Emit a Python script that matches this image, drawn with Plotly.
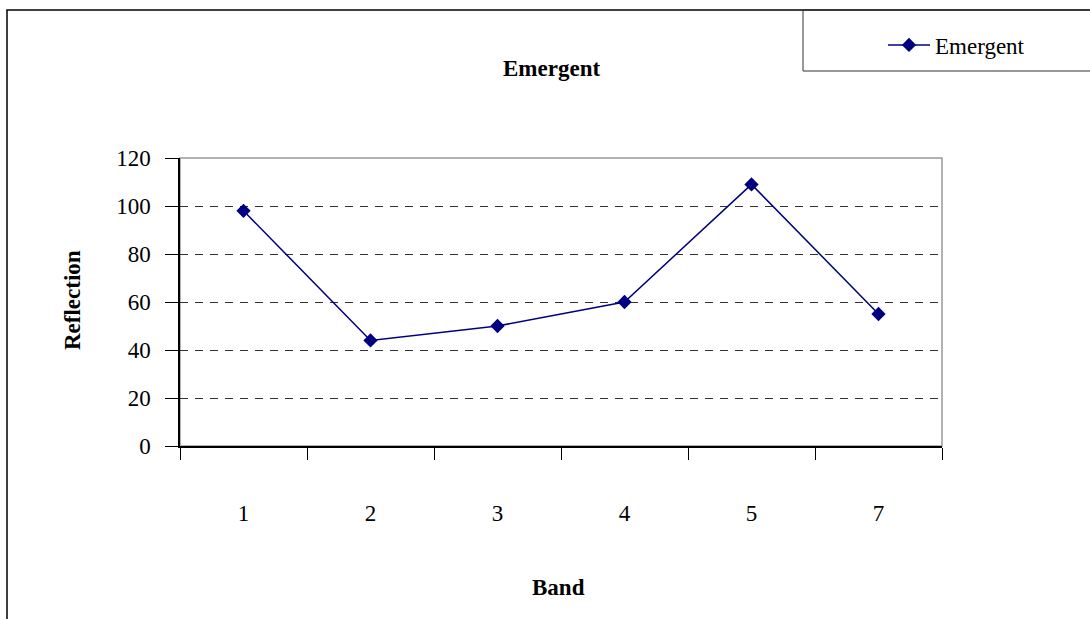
import plotly.graph_objects as go

# Reflection values per spectral band
bands = ["1", "2", "3", "4", "5", "7"]
reflection = [98, 44, 50, 60, 109, 55]
series_name = "Emergent"
y_ticks = [0, 20, 40, 60, 80, 100, 120]

W, H = 1090, 619
L, R, T, B = 180, 942, 158, 446  # plot area in pixels
pw, ph = R - L, B - T


def px_x(x):
    return (x - L) / pw


def px_y(y):
    return (B - y) / ph


FONT = "Liberation Serif, Times New Roman, serif"
FS = 23

fig = go.Figure()
fig.add_trace(go.Scatter(
    x=bands, y=reflection, name=series_name, mode="lines+markers",
    line=dict(color="#000080", width=1.5),
    marker=dict(symbol="diamond", size=11, color="#000080"),
))

fig.update_layout(
    width=W, height=H,
    margin=dict(l=L, r=W - R, t=T, b=H - B),
    paper_bgcolor="white", plot_bgcolor="white",
    font=dict(family=FONT, size=FS, color="black"),
    showlegend=True,
    legend=dict(x=px_x(883), y=px_y(45), xanchor="left", yanchor="middle",
                bgcolor="rgba(0,0,0,0)", borderwidth=0, itemwidth=42,
                font=dict(family=FONT, size=FS)),
    xaxis=dict(type="category", range=[-0.5, 5.5], tickson="boundaries",
               ticks="outside", ticklen=12, tickcolor="black", tickwidth=1,
               showline=True, linecolor="black", linewidth=1.5,
               showgrid=False, zeroline=False, ticklabelstandoff=46,
               tickfont=dict(family=FONT, size=FS)),
    yaxis=dict(range=[0, 120], tickvals=y_ticks, ticks="outside", ticklen=13,
               tickcolor="black", tickwidth=1, showline=True,
               linecolor="black", linewidth=1.5, showgrid=True,
               gridcolor="#333333", gridwidth=1, griddash="8px,7px",
               zeroline=False, ticklabelstandoff=10,
               tickfont=dict(family=FONT, size=FS)),
)

# plot-area frame (top and right edges)
fig.add_shape(type="rect", xref="paper", yref="paper", x0=0, x1=1, y0=0, y1=1,
              line=dict(color="#9a9a9a", width=1.5), layer="below")
# outer chart border
fig.add_shape(type="rect", xref="paper", yref="paper",
              x0=px_x(7), x1=px_x(1100), y0=px_y(10), y1=px_y(630),
              line=dict(color="black", width=1.5))
# legend box
fig.add_shape(type="rect", xref="paper", yref="paper",
              x0=px_x(803), x1=px_x(1100), y0=px_y(10), y1=px_y(71),
              line=dict(color="#333333", width=1))

common = dict(xref="paper", yref="paper", showarrow=False,
              xanchor="center", yanchor="middle")
fig.add_annotation(text="<b>Emergent</b>", x=px_x(551), y=px_y(68),
                   font=dict(family=FONT, size=FS), **common)
fig.add_annotation(text="<b>Reflection</b>", x=px_x(72), y=px_y(300),
                   textangle=-90, font=dict(family=FONT, size=FS), **common)
fig.add_annotation(text="<b>Band</b>", x=px_x(558), y=px_y(587),
                   font=dict(family=FONT, size=FS), **common)

fig.write_html("out.html")
